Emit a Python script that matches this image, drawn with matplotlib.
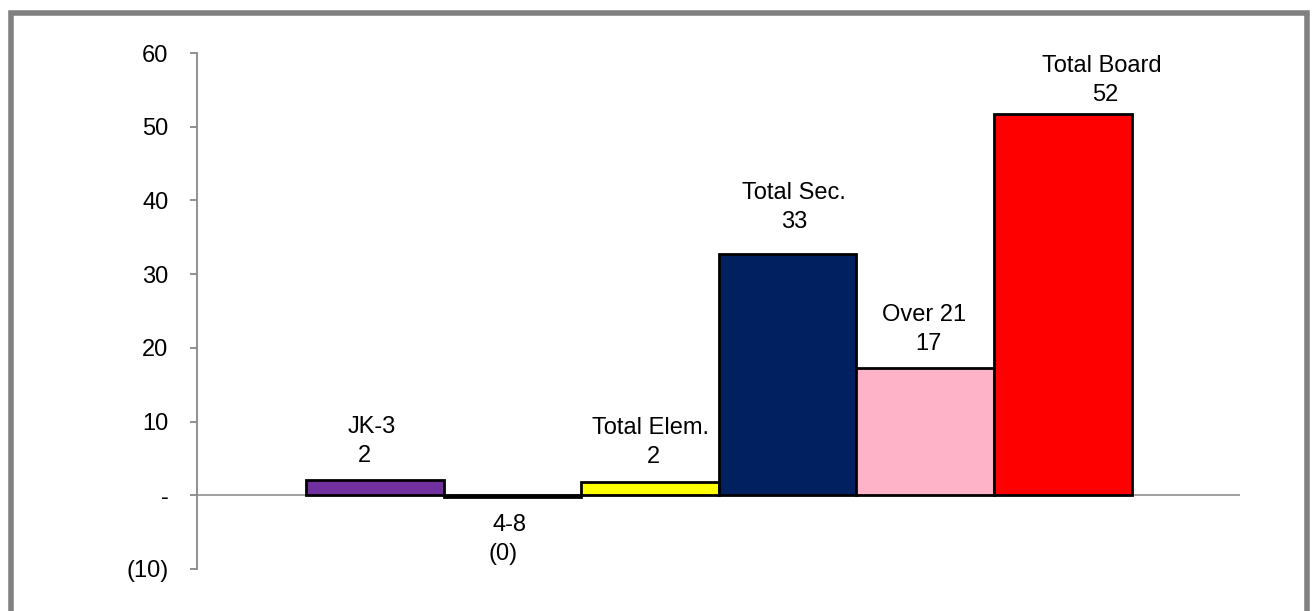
import matplotlib
matplotlib.use("Agg")
import matplotlib.pyplot as plt
from matplotlib.patches import Rectangle

categories = ["JK-3", "4-8", "Total Elem.", "Total Sec.", "Over 21", "Total Board"]
values = [2.1, -0.3, 1.8, 32.7, 17.2, 51.7]
value_labels = ["2", "(0)", "2", "33", "17", "52"]
colors = ["#7030A0", "#17375E", "#FFFF00", "#002060", "#FFB3C8", "#FF0000"]
yticks = [-10, 0, 10, 20, 30, 40, 50, 60]
ytick_labels = ["(10)", "-", "10", "20", "30", "40", "50", "60"]

plt.rcParams['font.family'] = ['Liberation Sans', 'DejaVu Sans']
FS = 17

W, H = 1315, 611
fig = plt.figure(figsize=(W / 100, H / 100), dpi=100)
fig.patches.append(Rectangle((11 / W, -0.05), (1307 - 11) / W, 1.05 - 12.5 / H,
                             transform=fig.transFigure, fill=False,
                             edgecolor="#808080", linewidth=4))

x0, x1 = 197, 1240
y_lo, y_hi = 569, 53
ax = fig.add_axes([x0 / W, (H - y_lo) / H, (x1 - x0) / W, (y_lo - y_hi) / H])

slot = 137.6
offset = (306 - x0) / slot
positions = [offset + 0.5 + i for i in range(len(values))]
ax.bar(positions, values, width=1.0, color=colors, edgecolor="black", linewidth=2, zorder=2)
ax.axhline(0, color="#999999", linewidth=1.3, zorder=1)

ax.set_xlim(0, (x1 - x0) / slot)
ax.set_ylim(-10, 60)
ax.set_yticks(yticks)
ax.set_yticklabels(ytick_labels, fontsize=FS)
ax.set_xticks([])
for s in ["top", "right", "bottom"]:
    ax.spines[s].set_visible(False)
ax.spines["left"].set_color("#888888")
ax.spines["left"].set_linewidth(1.3)
ax.tick_params(axis="y", color="#888888", length=5, width=1.3, pad=15.5)

# label placement (styling): block centre in data units, horizontal pixel offsets
label_y = [7.3, -6.0, 7.1, 39.0, 22.5, 56.3]
name_dx = [-3, -3, 0, 6, -1, 39]
value_dx = [-10, -9, 3, 7, 3, 42]
px = 0.72  # points per pixel at 100 dpi
for p, name, vl, ly, ndx, vdx in zip(positions, categories, value_labels, label_y, name_dx, value_dx):
    ax.annotate(name, xy=(p, ly), xytext=(ndx * px, 14.5 * px), textcoords="offset points",
                ha="center", va="center", fontsize=FS, zorder=3)
    ax.annotate(vl, xy=(p, ly), xytext=(vdx * px, -14.5 * px), textcoords="offset points",
                ha="center", va="center", fontsize=FS, zorder=3)

fig.savefig("out.png", dpi=100)
